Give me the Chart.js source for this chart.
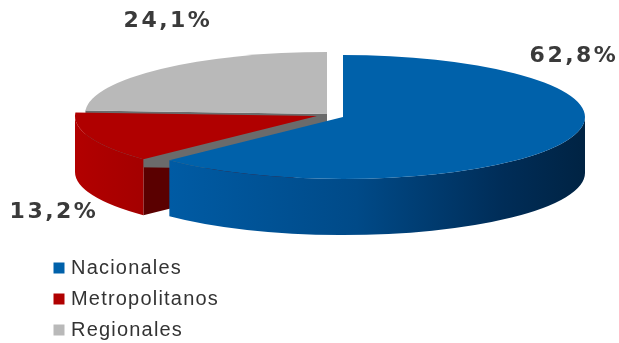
<!DOCTYPE html>
<html>
<head>
<meta charset="utf-8">
<script src="https://cdn.jsdelivr.net/npm/chart.js@4.4.4/dist/chart.umd.min.js"></script>
<style>
  html, body { margin: 0; padding: 0; background: #fff; }
  .chart-wrap { position: relative; width: 619px; height: 343px; }
</style>
</head>
<body>
<div class="chart-wrap"><canvas id="chart-tipo"></canvas></div>
<script>
const CATEGORIES = ['Nacionales', 'Metropolitanos', 'Regionales'];
const SHARES = [62.8, 13.2, 24.1];

// slice styling: top face, side wall gradient stops, cut face
const TOP_COLORS = ['#0061aa', '#b00000', '#b9b9b9'];
const WALL_STOPS = [
  [[0, '#005ba4'], [0.45, '#004a88'], [0.8, '#002d58'], [1, '#002343']],
  [[0, '#b20000'], [1, '#a40000']],
  [[0, '#a8a8a8'], [1, '#8c8c8c']],
];
const FACE_COLORS = ['#003a70', '#5a0000', '#6b6b6b'];

// projected pie geometry (px)
const RX = 242, RY = 62, DEPTH = 56;
const PIE_CENTER = { x: 333.8, y: 116 };
// how far each slice is pulled out of the pie, already projected
const SLICE_SHIFT = [[9.2, 1], [-16.8, 0], [-6.8, -2]];
const LABEL_POS = [[573, 56], [53, 212], [167, 21]];

function fmtPct(v) { return v.toFixed(1).replace('.', ',') + '%'; }

function rim(c, t, dy = 0) {
  return [c.x + RX * Math.cos(t), c.y + RY * Math.sin(t) + dy];
}

function radialFace(ctx, s, t) {
  const [px, py] = rim(s.c, t);
  ctx.beginPath();
  ctx.moveTo(s.c.x, s.c.y);
  ctx.lineTo(px, py);
  ctx.lineTo(px, py + DEPTH);
  ctx.lineTo(s.c.x, s.c.y + DEPTH);
  ctx.closePath();
  ctx.fillStyle = FACE_COLORS[s.i];
  ctx.fill();
}

function outerWall(ctx, s) {
  const t0 = Math.max(s.a, 0);
  const t1 = Math.min(s.b, Math.PI);
  if (t1 <= t0) return;
  const { x, y } = s.c;
  ctx.beginPath();
  ctx.ellipse(x, y, RX, RY, 0, t0, t1);
  ctx.ellipse(x, y + DEPTH, RX, RY, 0, t1, t0, true);
  ctx.closePath();
  const g = ctx.createLinearGradient(rim(s.c, t1)[0], 0, rim(s.c, t0)[0], 0);
  WALL_STOPS[s.i].forEach(([o, col]) => g.addColorStop(o, col));
  ctx.fillStyle = g;
  ctx.fill();
}

function topFace(ctx, s) {
  ctx.beginPath();
  ctx.moveTo(s.c.x, s.c.y);
  ctx.ellipse(s.c.x, s.c.y, RX, RY, 0, s.a, s.b);
  ctx.closePath();
  ctx.fillStyle = TOP_COLORS[s.i];
  ctx.fill();
}

const pie3d = {
  id: 'pie3d',
  beforeDraw(chart) {
    chart.ctx.letterSpacing = '1.2px';
  },
  beforeDatasetsDraw(chart) {
    const ctx = chart.ctx;
    const arcs = chart.getDatasetMeta(0).data;
    const slices = arcs.map((arc, i) => ({
      i,
      a: arc.startAngle,
      b: arc.endAngle,
      c: { x: PIE_CENTER.x + SLICE_SHIFT[i][0], y: PIE_CENTER.y + SLICE_SHIFT[i][1] },
    }));

    ctx.save();
    // cut faces turned towards the viewer
    slices.forEach(s => {
      if (Math.cos(s.a) < -1e-6) radialFace(ctx, s, s.a);
      if (Math.cos(s.b) > 1e-6) radialFace(ctx, s, s.b);
    });
    slices.forEach(s => outerWall(ctx, s));
    slices.forEach(s => topFace(ctx, s));

    // value labels
    ctx.font = 'bold 22px "DejaVu Sans", Verdana, sans-serif';
    ctx.letterSpacing = '2.5px';
    ctx.fillStyle = '#3a3a3a';
    ctx.textAlign = 'center';
    ctx.textBaseline = 'middle';
    const values = chart.data.datasets[0].data;
    values.forEach((v, i) => {
      ctx.fillText(fmtPct(v), LABEL_POS[i][0] + 1, LABEL_POS[i][1]);
    });
    ctx.restore();
    return false;
  },
  afterDraw(chart) {
    chart.ctx.letterSpacing = '0px';
  },
};

new Chart(document.getElementById('chart-tipo'), {
  type: 'pie',
  data: {
    labels: CATEGORIES,
    datasets: [{
      data: SHARES,
      backgroundColor: TOP_COLORS,
      borderWidth: 0,
    }],
  },
  options: {
    responsive: true,
    maintainAspectRatio: false,
    animation: false,
    layout: { padding: { left: 46, right: 401, top: 0, bottom: -7 } },
    plugins: {
      tooltip: { enabled: false },
      legend: {
        position: 'bottom',
        align: 'start',
        labels: {
          usePointStyle: true,
          pointStyle: 'rect',
          boxWidth: 4,
          boxHeight: 11,
          padding: 11,
          color: '#333333',
          font: { family: '"Liberation Sans", Arial, sans-serif', size: 20 },
        },
      },
    },
  },
  plugins: [pie3d],
});
</script>
</body>
</html>
